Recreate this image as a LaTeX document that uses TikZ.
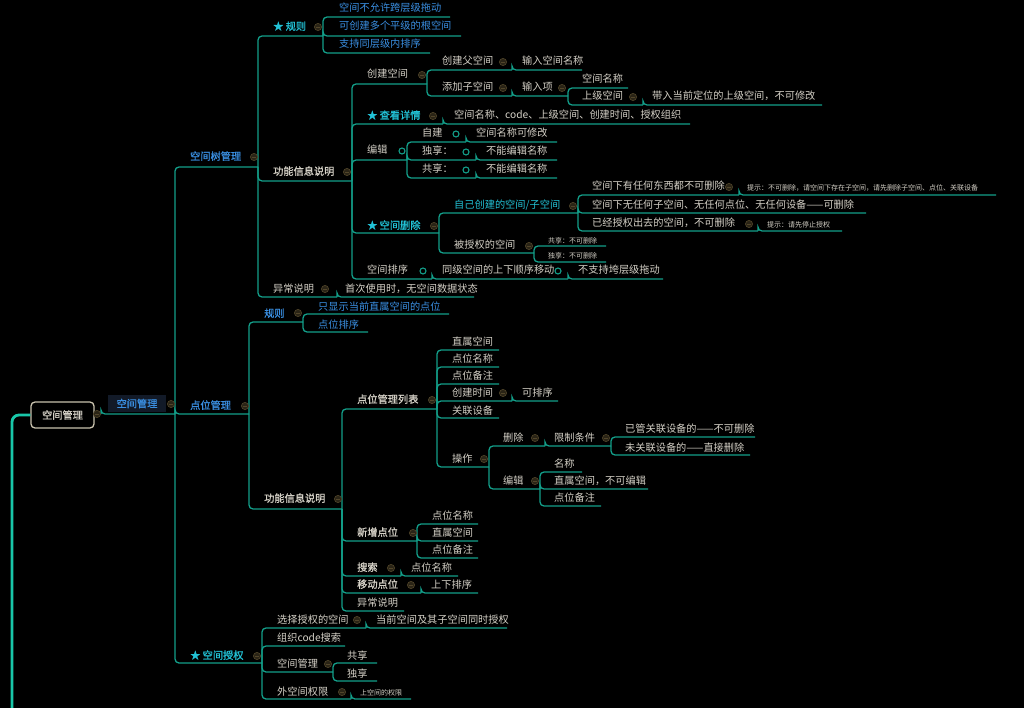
\documentclass[tikz,border=0pt]{standalone}
\usepackage{fontspec}
\setmainfont{Noto Sans CJK SC}
\newfontfamily\mbf{Noto Sans CJK SC}[FakeBold=1.1]
\definecolor{lnc}{HTML}{139F8A}
\definecolor{thk}{HTML}{19C7A9}
\definecolor{txc}{HTML}{D4D0C6}
\definecolor{blc}{HTML}{3A8FE2}
\definecolor{cyc}{HTML}{22C2D6}
\definecolor{mkf}{HTML}{2A2416}
\definecolor{mkd}{HTML}{51452A}
\definecolor{rbd}{HTML}{C9C2AE}
\definecolor{sbf}{HTML}{121A28}
\tikzset{
 lbl/.style={anchor=west,inner sep=0pt,text=txc,font=\fontsize{10.2}{12}\selectfont,text height=8pt,text depth=2pt},
 bd/.style={font=\fontsize{10.2}{12}\selectfont\mbf},
 bl/.style={lbl,text=blc},
 cy/.style={lbl,text=cyc},
 tnl/.style={lbl,font=\fontsize{7}{8}\selectfont,text height=5.6pt,text depth=1.4pt},
 conn/.style={draw=lnc,line width=1.3pt,rounded corners=4pt},
}
\newcommand\mkc[2]{\filldraw[fill=mkf,draw=mkd,line width=0.6pt] (#1,#2) circle (3.6pt); \draw[mkd,line width=0.8pt] (#1-1.8,#2) -- (#1+1.8,#2);}
\newcommand\mkt[2]{\draw[lnc,line width=1.1pt] (#1,#2) circle (3pt);}
\newcommand\linkto[2]{\draw[conn] (#1-e) |- (#2-e);}
\begin{document}
\begin{tikzpicture}[x=1pt,y=-1pt]
\fill[black] (0,0) rectangle (1024,708);
\useasboundingbox (0,0) rectangle (1024,708);

% ---------- coordinates (underline ends) ----------
\coordinate (root-e) at (101,414);
\coordinate (sm-e) at (175,414);
\coordinate (tree-e) at (258,167);
\coordinate (pt-e) at (249,414);
\coordinate (auth-e) at (262,663);
\coordinate (rule-e) at (323,36);
\coordinate (r1-e) at (450,17);
\coordinate (r2-e) at (461,36);
\coordinate (r3-e) at (430,53);
\coordinate (func-e) at (352,181);
\coordinate (exc-e) at (337,297);
\coordinate (exc1-e) at (474,297);
\coordinate (cs-e) at (427,84);
\coordinate (cf-e) at (512,70);
\coordinate (cf1-e) at (582,70);
\coordinate (ac-e) at (512,96);
\coordinate (ac1-e) at (568,96);
\coordinate (an-e) at (628,88);
\coordinate (ap-e) at (643,105);
\coordinate (ap1-e) at (822,105);
\coordinate (vd-e) at (443,124);
\coordinate (vd1-e) at (690,124);
\coordinate (ed-e) at (407,160);
\coordinate (e1-e) at (466,142);
\coordinate (e1c-e) at (557,142);
\coordinate (e2-e) at (476,160);
\coordinate (e2c-e) at (557,160);
\coordinate (e3-e) at (476,178);
\coordinate (e3c-e) at (557,178);
\coordinate (del-e) at (439,233);
\coordinate (own-e) at (578,213);
\coordinate (o1-e) at (739,195);
\coordinate (o1t-e) at (996,195);
\coordinate (o2-e) at (866,213);
\coordinate (o3-e) at (758,231);
\coordinate (o3t-e) at (842,231);
\coordinate (aut-e) at (534,253);
\coordinate (a1-e) at (606,246);
\coordinate (a2-e) at (606,262);
\coordinate (sort-e) at (432,279);
\coordinate (sort1-e) at (568,279);
\coordinate (sort2-e) at (663,279);
\coordinate (prule-e) at (303,322);
\coordinate (pr1-e) at (449,314);
\coordinate (pr2-e) at (368,332);
\coordinate (pfunc-e) at (342,509);
\coordinate (list-e) at (437,409);
\coordinate (l1-e) at (499,350);
\coordinate (l2-e) at (499,367);
\coordinate (l3-e) at (499,384);
\coordinate (l4-e) at (512,401);
\coordinate (l4c-e) at (558,401);
\coordinate (l5-e) at (499,418);
\coordinate (op-e) at (489,467);
\coordinate (opd-e) at (545,446);
\coordinate (lim-e) at (611,446);
\coordinate (lim1-e) at (755,437);
\coordinate (lim2-e) at (750,455);
\coordinate (ope-e) at (540,489);
\coordinate (oe1-e) at (582,472);
\coordinate (oe2-e) at (648,489);
\coordinate (oe3-e) at (601,506);
\coordinate (add-e) at (417,541);
\coordinate (ad1-e) at (478,524);
\coordinate (ad2-e) at (478,541);
\coordinate (ad3-e) at (478,558);
\coordinate (srch-e) at (401,576);
\coordinate (srch1-e) at (458,576);
\coordinate (mv-e) at (421,593);
\coordinate (mv1-e) at (478,593);
\coordinate (pexc-e) at (404,611);
\coordinate (sel-e) at (366,628);
\coordinate (sel1-e) at (507,628);
\coordinate (org-e) at (345,646);
\coordinate (smg-e) at (333,672);
\coordinate (sh-e) at (377,663);
\coordinate (ex-e) at (377,681);
\coordinate (outer-e) at (351,699);
\coordinate (outer1-e) at (411,699);
\coordinate (offb) at (12,712);

% ---------- connectors ----------
\linkto{root}{sm}
\linkto{sm}{tree}\linkto{sm}{pt}\linkto{sm}{auth}
\linkto{tree}{rule}\linkto{tree}{func}\linkto{tree}{exc}\linkto{exc}{exc1}
\linkto{rule}{r1}\linkto{rule}{r2}\linkto{rule}{r3}
\linkto{func}{cs}\linkto{func}{vd}\linkto{func}{ed}\linkto{func}{del}\linkto{func}{sort}
\linkto{cs}{cf}\linkto{cf}{cf1}\linkto{cs}{ac}\linkto{ac}{ac1}\linkto{ac1}{an}\linkto{ac1}{ap}\linkto{ap}{ap1}
\linkto{vd}{vd1}
\linkto{ed}{e1}\linkto{e1}{e1c}\linkto{ed}{e2}\linkto{e2}{e2c}\linkto{ed}{e3}\linkto{e3}{e3c}
\linkto{del}{own}\linkto{del}{aut}
\linkto{own}{o1}\linkto{o1}{o1t}\linkto{own}{o2}\linkto{own}{o3}\linkto{o3}{o3t}
\linkto{aut}{a1}\linkto{aut}{a2}
\linkto{sort}{sort1}\linkto{sort1}{sort2}
\linkto{pt}{prule}\linkto{pt}{pfunc}
\linkto{prule}{pr1}\linkto{prule}{pr2}
\linkto{pfunc}{list}\linkto{pfunc}{add}\linkto{pfunc}{srch}\linkto{pfunc}{mv}\linkto{pfunc}{pexc}
\linkto{list}{l1}\linkto{list}{l2}\linkto{list}{l3}\linkto{list}{l4}\linkto{l4}{l4c}\linkto{list}{l5}\linkto{list}{op}
\linkto{op}{opd}\linkto{opd}{lim}\linkto{lim}{lim1}\linkto{lim}{lim2}
\linkto{op}{ope}\linkto{ope}{oe1}\linkto{ope}{oe2}\linkto{ope}{oe3}
\linkto{add}{ad1}\linkto{add}{ad2}\linkto{add}{ad3}
\linkto{srch}{srch1}\linkto{mv}{mv1}
\linkto{auth}{sel}\linkto{sel}{sel1}\linkto{auth}{org}\linkto{auth}{smg}\linkto{smg}{sh}\linkto{smg}{ex}\linkto{auth}{outer}\linkto{outer}{outer1}

% ---------- root boxes ----------
\node[draw=rbd,line width=1.3pt,rounded corners=4pt,fill=black,minimum width=63pt,minimum height=26pt,inner sep=0pt,text=txc,font=\fontsize{10.2}{12}\selectfont\mbf] (root) at (62.5,415) {空间管理};
\draw[draw=thk,line width=2.8pt,rounded corners=7pt] (root.west) -| (offb);
\node[fill=sbf,minimum width=58pt,minimum height=17pt,inner sep=0pt,text=blc,font=\fontsize{10.2}{12}\selectfont\mbf] (sm) at (137,403.5) {空间管理};

% ---------- labels ----------
\node[bl,bd] (tree) at (190,157) {空间树管理};
\node[bl,bd] (pt) at (190,406) {点位管理};
\node[cy,bd] (auth) at (190,656) {★ 空间授权};

\node[cy,bd] (rule) at (273,27) {★ 规则};
\node[bl] (r1) at (339,9) {空间不允许跨层级拖动};
\node[bl] (r2) at (339,27) {可创建多个平级的根空间};
\node[bl] (r3) at (339,45) {支持同层级内排序};
\node[lbl,bd] (func) at (273,172) {功能信息说明};
\node[lbl] (exc) at (273,289) {异常说明};
\node[lbl] (exc1) at (345,289) {首次使用时，无空间数据状态};

\node[lbl] (cs) at (367,75) {创建空间};
\node[lbl] (cf) at (442,62) {创建父空间};
\node[lbl] (cf1) at (522,62) {输入空间名称};
\node[lbl] (ac) at (442,88) {添加子空间};
\node[lbl] (ac1) at (522,88) {输入项};
\node[lbl] (an) at (582,80) {空间名称};
\node[lbl] (ap) at (582,97) {上级空间};
\node[lbl] (ap1) at (652,97) {带入当前定位的上级空间，不可修改};
\node[cy,bd] (vd) at (367,116) {★ 查看详情};
\node[lbl] (vd1) at (454,116) {空间名称、code、上级空间、创建时间、授权组织};
\node[lbl] (ed) at (367,151) {编辑};
\node[lbl] (e1) at (422,134) {自建};
\node[lbl] (e1c) at (476,134) {空间名称可修改};
\node[lbl] (e2) at (422,152) {独享：};
\node[lbl] (e2c) at (486,152) {不能编辑名称};
\node[lbl] (e3) at (422,170) {共享：};
\node[lbl] (e3c) at (486,170) {不能编辑名称};
\node[cy,bd] (del) at (367,226) {★ 空间删除};
\node[cy] (own) at (454,206) {自己创建的空间/子空间};
\node[lbl] (o1) at (592,187) {空间下有任何东西都不可删除};
\node[tnl] (o1t) at (747,188) {提示：不可删除，请空间下存在子空间，请先删除子空间、点位、关联设备};
\node[lbl] (o2) at (592,206) {空间下无任何子空间、无任何点位、无任何设备——可删除};
\node[lbl] (o3) at (592,224) {已经授权出去的空间，不可删除};
\node[tnl] (o3t) at (767,225) {提示：请先停止授权};
\node[lbl] (aut) at (454,246) {被授权的空间};
\node[tnl] (a1) at (548,241) {共享：不可删除};
\node[tnl] (a2) at (548,256) {独享：不可删除};
\node[lbl] (sort) at (367,271) {空间排序};
\node[lbl] (sort1) at (442,271) {同级空间的上下顺序移动};
\node[lbl] (sort2) at (578,271) {不支持垮层级拖动};

\node[bl,bd] (prule) at (264,314) {规则};
\node[bl] (pr1) at (318,307) {只显示当前直属空间的点位};
\node[bl] (pr2) at (318,325) {点位排序};
\node[lbl,bd] (pfunc) at (264,499) {功能信息说明};
\node[lbl,bd] (list) at (357,400) {点位管理列表};
\node[lbl] (l1) at (452,342) {直属空间};
\node[lbl] (l2) at (452,359) {点位名称};
\node[lbl] (l3) at (452,376) {点位备注};
\node[lbl] (l4) at (452,393) {创建时间};
\node[lbl] (l4c) at (522,393) {可排序};
\node[lbl] (l5) at (452,411) {关联设备};
\node[lbl] (op) at (452,459) {操作};
\node[lbl] (opd) at (503,438) {删除};
\node[lbl] (lim) at (554,438) {限制条件};
\node[lbl] (lim1) at (625,429) {已管关联设备的——不可删除};
\node[lbl] (lim2) at (625,448) {未关联设备的——直接删除};
\node[lbl] (ope) at (503,481) {编辑};
\node[lbl] (oe1) at (554,464) {名称};
\node[lbl] (oe2) at (554,481) {直属空间，不可编辑};
\node[lbl] (oe3) at (554,498) {点位备注};
\node[lbl,bd] (add) at (357,533) {新增点位};
\node[lbl] (ad1) at (432,516) {点位名称};
\node[lbl] (ad2) at (432,533) {直属空间};
\node[lbl] (ad3) at (432,550) {点位备注};
\node[lbl,bd] (srch) at (357,568) {搜索};
\node[lbl] (srch1) at (411,568) {点位名称};
\node[lbl,bd] (mv) at (357,585) {移动点位};
\node[lbl] (mv1) at (431,585) {上下排序};
\node[lbl] (pexc) at (357,603) {异常说明};

\node[lbl] (sel) at (277,620) {选择授权的空间};
\node[lbl] (sel1) at (376,620) {当前空间及其子空间同时授权};
\node[lbl] (org) at (277,638) {组织code搜索};
\node[lbl] (smg) at (277,664) {空间管理};
\node[lbl] (sh) at (347,656) {共享};
\node[lbl] (ex) at (347,674) {独享};
\node[lbl] (outer) at (277,692) {外空间权限};
\node[tnl] (outer1) at (360,693) {上空间的权限};

% ---------- markers ----------
\mkc{97}{414}\mkc{171}{404}
\mkc{254}{157}\mkc{245}{406}\mkc{257}{656}
\mkc{318}{27}\mkc{347}{172}\mkc{325}{289}
\mkc{422}{75}\mkc{503}{62}\mkc{503}{88}\mkc{562}{88}\mkc{633}{97}
\mkc{433}{116}
\mkt{402}{151}\mkt{456}{134}\mkt{466}{152}\mkt{466}{170}
\mkc{434}{226}\mkc{573}{206}\mkc{729}{187}\mkc{749}{224}\mkc{529}{246}
\mkt{423}{271}\mkt{558}{271}
\mkc{298}{313}\mkc{338}{499}
\mkc{432}{400}\mkc{503}{393}\mkc{484}{459}\mkc{535}{438}\mkc{606}{438}\mkc{535}{481}
\mkc{413}{533}\mkc{391}{568}\mkc{411}{585}
\mkc{357}{620}\mkc{328}{664}\mkc{342}{692}
\end{tikzpicture}
\end{document}
